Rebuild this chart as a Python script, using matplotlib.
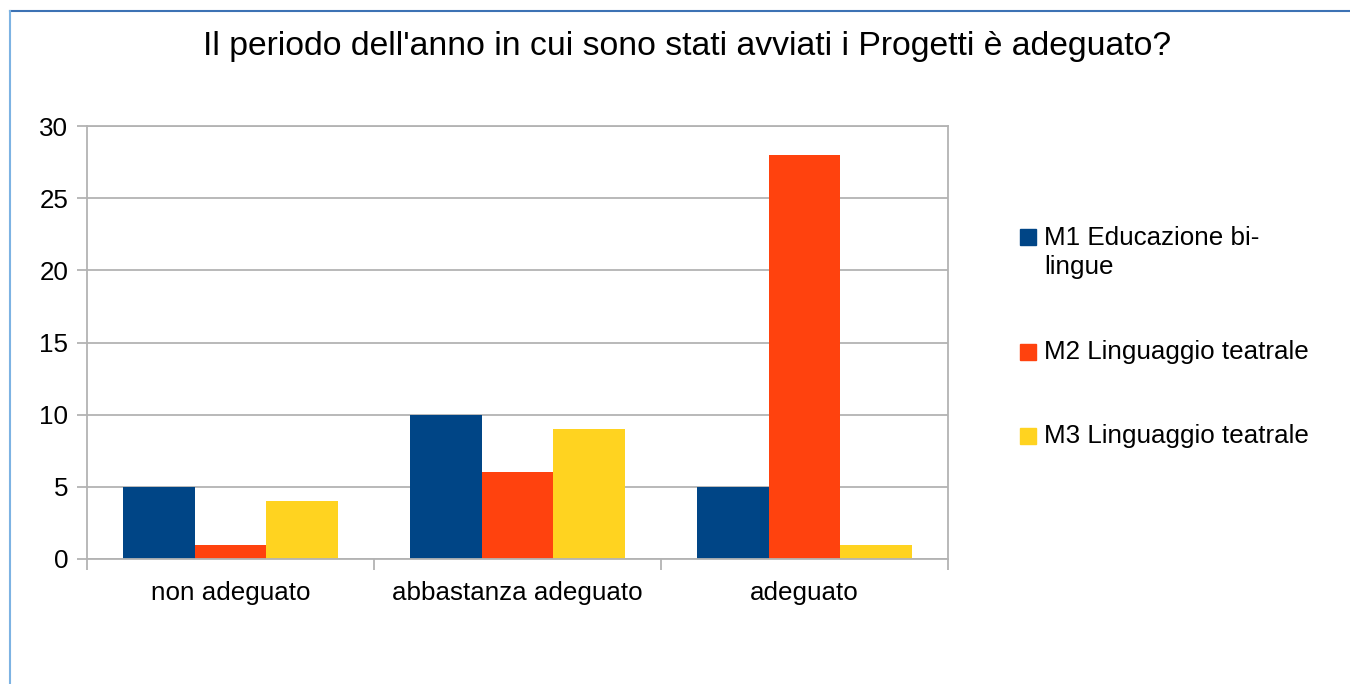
import matplotlib.pyplot as plt
import numpy as np
from matplotlib.lines import Line2D
from matplotlib.patches import Rectangle

plt.rcParams['font.family'] = ['Liberation Sans', 'DejaVu Sans']

# Data
categories = ['non adeguato', 'abbastanza adeguato', 'adeguato']
series_names = ['M1 Educazione bi-\nlingue', 'M2 Linguaggio teatrale', 'M3 Linguaggio teatrale']
m1 = [5, 10, 5]
m2 = [1, 6, 28]
m3 = [4, 9, 1]
yticks = [0, 5, 10, 15, 20, 25, 30]

colors = ['#004586', '#ff420e', '#ffd320']
grid_c = '#b3b3b3'
fs = 18.7

W, H = 1350, 684
fig = plt.figure(figsize=(W / 100, H / 100), dpi=100)
ax = fig.add_axes([87 / W, 1 - 559 / H, (948 - 87) / W, (559 - 126) / H])

x = np.arange(len(categories))
width = 0.25
for i, (vals, c) in enumerate(zip([m1, m2, m3], colors)):
    ax.bar(x + (i - 1) * width, vals, width, color=c, zorder=3)

ax.set_xlim(-0.5, len(categories) - 0.5)
ax.set_ylim(0, 30)
ax.set_yticks(yticks)
ax.set_xticks(x)
ax.set_xticklabels(categories)
ax.set_xticks(np.arange(-0.5, len(categories)), minor=True)
ax.tick_params(axis='x', which='major', length=0, pad=16, labelsize=fs)
ax.tick_params(axis='x', which='minor', length=8, width=1.3, color=grid_c)
ax.tick_params(axis='y', length=7.5, width=1.3, color=grid_c, pad=6, labelsize=fs)

ax.grid(axis='y', color=grid_c, linewidth=1.3, zorder=0)
for side in ['left', 'right', 'bottom', 'top']:
    ax.spines[side].set_color(grid_c)
    ax.spines[side].set_linewidth(1.3)
ax.spines['bottom'].set_zorder(4)

fig.text(687 / W, 1 - 47 / H, "Il periodo dell'anno in cui sono stati avviati i Progetti è adeguato?",
         ha='center', va='center', fontsize=24.3)

# Legend drawn from the series names
legend_y = [237, 352, 436]
for name, c, ly in zip(series_names, colors, legend_y):
    fig.patches.append(Rectangle((1020 / W, 1 - (ly + 8) / H), 16 / W, 16 / H,
                                 transform=fig.transFigure, color=c, figure=fig))
    if '\n' in name:
        # first line centred on the marker
        fig.text(1044 / W, 1 - (ly - 11) / H, name, ha='left', va='top',
                 fontsize=fs, linespacing=1.25)
    else:
        fig.text(1044 / W, 1 - ly / H, name, ha='left', va='center', fontsize=fs)

# Frame lines of the chart object
fig.add_artist(Line2D([10 / W, 1], [1 - 11 / H, 1 - 11 / H], transform=fig.transFigure,
                      color='#3c72b4', linewidth=1.5))
fig.add_artist(Line2D([10 / W, 10 / W], [0, 1 - 11 / H], transform=fig.transFigure,
                      color='#7db3e3', linewidth=1.5))

plt.savefig('out.png', dpi=100)
